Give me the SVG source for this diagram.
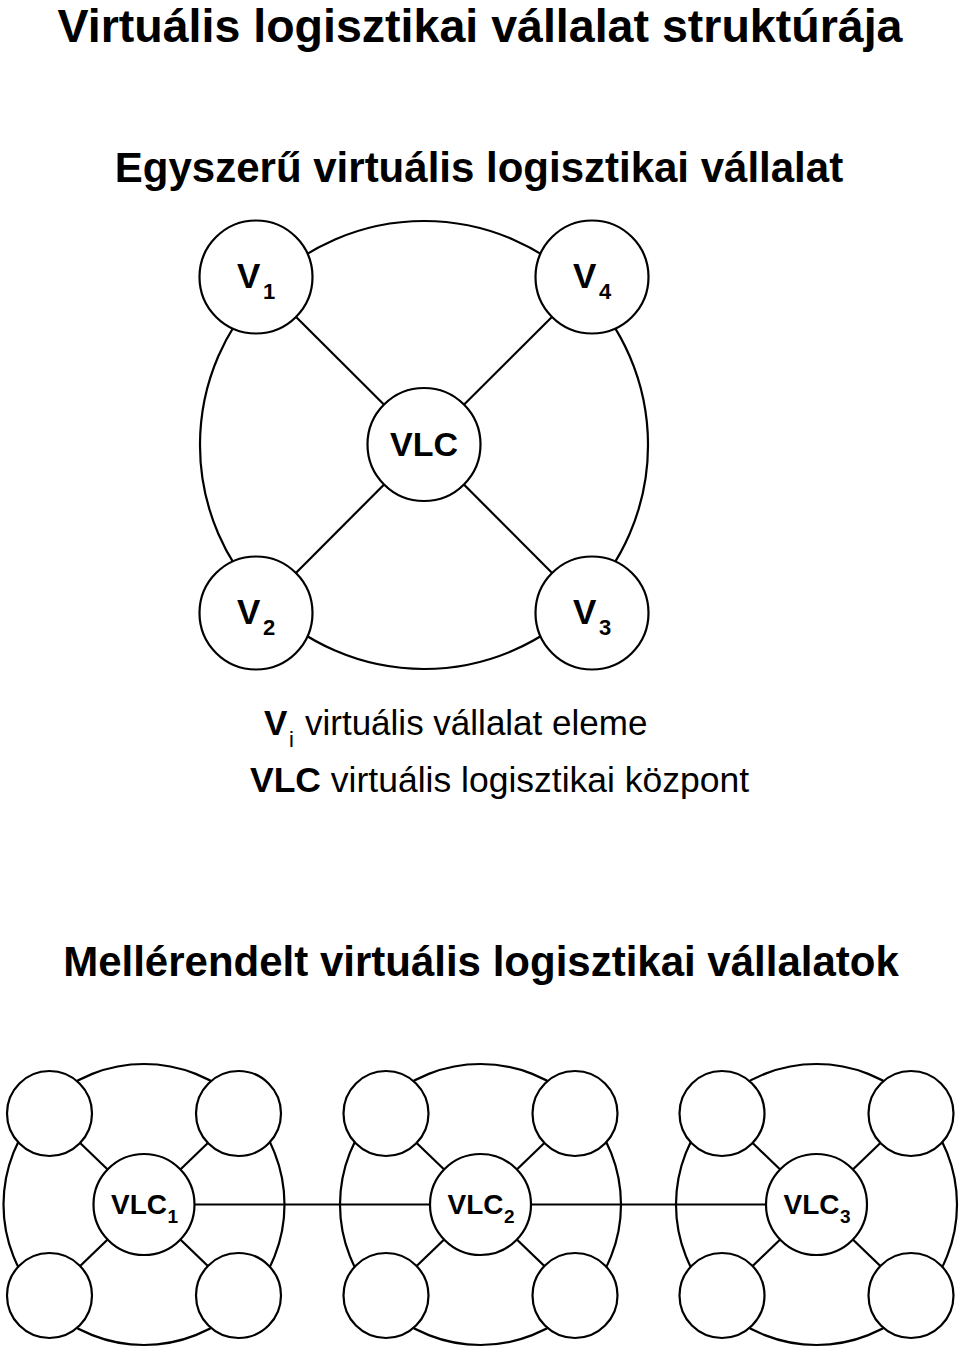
<svg xmlns="http://www.w3.org/2000/svg" width="960" height="1350" viewBox="0 0 960 1350">
<style>
.t{font-family:"Liberation Sans",Arial,sans-serif;fill:#000}
.b{font-weight:bold}
.n{fill:#fff;stroke:#000;stroke-width:2.2}
.c{fill:none;stroke:#000;stroke-width:2.2}
</style>
<rect width="960" height="1350" fill="#fff"/>
<text class="t b" x="480" y="42" font-size="46" text-anchor="middle" textLength="845" lengthAdjust="spacingAndGlyphs">Virtuális logisztikai vállalat struktúrája</text>
<text class="t b" x="479" y="182" font-size="42" text-anchor="middle">Egyszerű virtuális logisztikai vállalat</text>

<g id="connectors-top">
<line class="c" x1="424" y1="444.5" x2="256" y2="277"/>
<line class="c" x1="424" y1="444.5" x2="592" y2="277"/>
<line class="c" x1="424" y1="444.5" x2="256" y2="613"/>
<line class="c" x1="424" y1="444.5" x2="592" y2="613"/>
<path class="c" d="M265.6 286.6 A224 224 0 0 1 582.4 286.6"/>
<path class="c" d="M582.4 286.6 A224 224 0 0 1 582.4 603.4"/>
<path class="c" d="M582.4 603.4 A224 224 0 0 1 265.6 603.4"/>
<path class="c" d="M265.6 603.4 A224 224 0 0 1 265.6 286.6"/>
</g>

<g id="V1"><circle class="n" cx="256" cy="277" r="56.5"/>
<text class="t b" x="237" y="288" font-size="35">V</text><text class="t b" x="263" y="299" font-size="22">1</text></g>
<g id="V4"><circle class="n" cx="592" cy="277" r="56.5"/>
<text class="t b" x="573" y="288" font-size="35">V</text><text class="t b" x="599" y="299" font-size="22">4</text></g>
<g id="VLC"><circle class="n" cx="424" cy="444.5" r="56.5"/>
<text class="t b" x="424" y="456" font-size="34" text-anchor="middle">VLC</text></g>
<g id="V2"><circle class="n" cx="256" cy="613" r="56.5"/>
<text class="t b" x="237" y="624" font-size="35">V</text><text class="t b" x="263" y="635" font-size="22">2</text></g>
<g id="V3"><circle class="n" cx="592" cy="613" r="56.5"/>
<text class="t b" x="573" y="624" font-size="35">V</text><text class="t b" x="599" y="635" font-size="22">3</text></g>

<g id="legend">
<text class="t b" x="264" y="735" font-size="35">V</text>
<text class="t" x="289" y="747" font-size="22">i</text>
<text class="t" x="305" y="735" font-size="35">virtuális vállalat eleme</text>
<text class="t" x="250" y="792" font-size="35.5"><tspan class="b">VLC</tspan> virtuális logisztikai központ</text>
</g>

<text class="t b" x="481" y="976" font-size="42" text-anchor="middle">Mellérendelt virtuális logisztikai vállalatok</text>

<g id="connectors-bottom">
<line class="c" x1="144" y1="1204.5" x2="816.5" y2="1204.5"/>
<g id="c1-links">
<line class="c" x1="144" y1="1204.5" x2="49.5" y2="1113.5"/>
<line class="c" x1="144" y1="1204.5" x2="238.5" y2="1113.5"/>
<line class="c" x1="144" y1="1204.5" x2="49.5" y2="1295.5"/>
<line class="c" x1="144" y1="1204.5" x2="238.5" y2="1295.5"/>
<circle class="c" cx="144" cy="1204.5" r="140.5"/>
</g>
<g id="c2-links">
<line class="c" x1="480.5" y1="1204.5" x2="386" y2="1113.5"/>
<line class="c" x1="480.5" y1="1204.5" x2="575" y2="1113.5"/>
<line class="c" x1="480.5" y1="1204.5" x2="386" y2="1295.5"/>
<line class="c" x1="480.5" y1="1204.5" x2="575" y2="1295.5"/>
<circle class="c" cx="480.5" cy="1204.5" r="140.5"/>
</g>
<g id="c3-links">
<line class="c" x1="816.5" y1="1204.5" x2="722" y2="1113.5"/>
<line class="c" x1="816.5" y1="1204.5" x2="911" y2="1113.5"/>
<line class="c" x1="816.5" y1="1204.5" x2="722" y2="1295.5"/>
<line class="c" x1="816.5" y1="1204.5" x2="911" y2="1295.5"/>
<circle class="c" cx="816.5" cy="1204.5" r="140.5"/>
</g>
</g>

<g id="cluster1">
<g id="c1-n1"><circle class="n" cx="49.5" cy="1113.5" r="42.5"/></g>
<g id="c1-n2"><circle class="n" cx="238.5" cy="1113.5" r="42.5"/></g>
<g id="c1-n3"><circle class="n" cx="49.5" cy="1295.5" r="42.5"/></g>
<g id="c1-n4"><circle class="n" cx="238.5" cy="1295.5" r="42.5"/></g>
<g id="VLC1"><circle class="n" cx="144" cy="1204.5" r="50.5"/>
<text class="t b" x="111" y="1214" font-size="28">VLC</text><text class="t b" x="167.5" y="1223" font-size="19">1</text></g>
</g>
<g id="cluster2">
<g id="c2-n1"><circle class="n" cx="386" cy="1113.5" r="42.5"/></g>
<g id="c2-n2"><circle class="n" cx="575" cy="1113.5" r="42.5"/></g>
<g id="c2-n3"><circle class="n" cx="386" cy="1295.5" r="42.5"/></g>
<g id="c2-n4"><circle class="n" cx="575" cy="1295.5" r="42.5"/></g>
<g id="VLC2"><circle class="n" cx="480.5" cy="1204.5" r="50.5"/>
<text class="t b" x="447.5" y="1214" font-size="28">VLC</text><text class="t b" x="504" y="1223" font-size="19">2</text></g>
</g>
<g id="cluster3">
<g id="c3-n1"><circle class="n" cx="722" cy="1113.5" r="42.5"/></g>
<g id="c3-n2"><circle class="n" cx="911" cy="1113.5" r="42.5"/></g>
<g id="c3-n3"><circle class="n" cx="722" cy="1295.5" r="42.5"/></g>
<g id="c3-n4"><circle class="n" cx="911" cy="1295.5" r="42.5"/></g>
<g id="VLC3"><circle class="n" cx="816.5" cy="1204.5" r="50.5"/>
<text class="t b" x="783.5" y="1214" font-size="28">VLC</text><text class="t b" x="840" y="1223" font-size="19">3</text></g>
</g>
</svg>
